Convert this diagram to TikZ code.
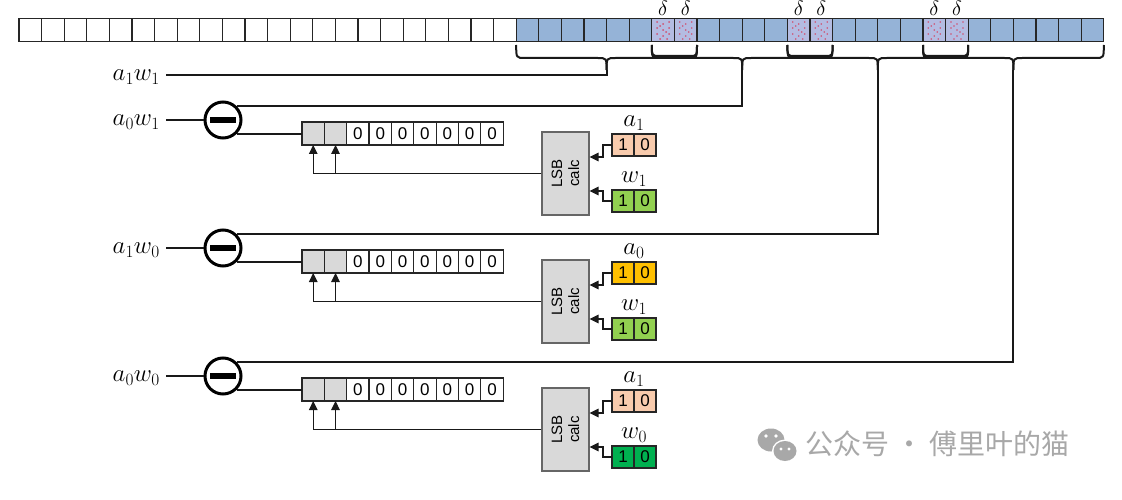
\documentclass[tikz,border=0pt]{standalone}
\usepackage{fontspec}
\newfontfamily\arial{Liberation Sans}
\newfontfamily\cjk{Noto Sans CJK SC}
\usetikzlibrary{arrows.meta}
\definecolor{barblue}{HTML}{95B3D7}
\definecolor{dotblue}{HTML}{B4BCE2}
\definecolor{dotred}{HTML}{D05070}
\definecolor{cellgray}{HTML}{D9D9D9}
\definecolor{aorange}{HTML}{F8CBAD}
\definecolor{ayellow}{HTML}{FFC000}
\definecolor{wlight}{HTML}{92D050}
\definecolor{wdark}{HTML}{00B050}
\definecolor{wmgray}{HTML}{A8A8A8}
\begin{document}
\begin{tikzpicture}[x=1pt,y=-1pt,
  topcell/.style={draw=black!85, line width=1.3pt, minimum width=22.6pt, minimum height=23pt, inner sep=0pt, outer sep=0pt},
  regcell/.style={draw=black!85, line width=1.2pt, minimum width=22.35pt, minimum height=23pt, inner sep=0pt, outer sep=0pt, font=\arial\fontsize{17}{17}\selectfont},
  smallcell/.style={draw=black!85, line width=1.2pt, minimum width=22pt, minimum height=22pt, inner sep=0pt, outer sep=0pt, font=\arial\fontsize{17}{17}\selectfont},
  wire/.style={line width=2pt, black!90},
  bracepath/.style={line width=2pt, black!90},
  arr/.style={line width=1.3pt, black!90, -{Triangle[length=9pt,width=8.5pt]}},
  minus/.style={circle, draw, line width=3pt, minimum size=36pt, inner sep=0pt},
  minusbar/.style={fill=black, minimum width=26pt, minimum height=6pt, inner sep=0pt},
  lsb/.style={draw=black!60, line width=1.2pt, fill=cellgray, minimum width=47pt, minimum height=83pt, inner sep=0pt},
  lsbtext/.style={rotate=90, align=center, font=\arial\fontsize{15}{17}\selectfont, inner sep=0pt},
  lab/.style={font=\fontsize{25}{25}\selectfont, inner sep=0pt},
  dlab/.style={font=\fontsize{22}{22}\selectfont, inner sep=0pt, anchor=base}
]
\useasboundingbox (0,0) rectangle (1122,500);
\fill[white] (0,0) rectangle (1122,500);

% top bar
\foreach \i in {0,...,21}
  \node[topcell, fill=white] (c\i) at ({30.3+22.6*\i},30) {};
\foreach \i in {22,...,27,30,31,32,33,36,37,38,39,42,43,44,45,46,47}
  \node[topcell, fill=barblue] (c\i) at ({30.3+22.6*\i},30) {};
\foreach \i in {28,29,34,35,40,41} {
  \node[topcell, fill=dotblue] (c\i) at ({30.3+22.6*\i},30) {};
  \foreach \dx/\dy in {-6/-8,0/-6,6/-8,-6/-2,0/0,6/-2,-6/4,0/6,6/4,-3/9,4/9,-3/-4,3/2}
    \fill[dotred] ([shift={(\dx,\dy)}]c\i.center) circle (0.9);
  \node[dlab] (d\i) at ({30.3+22.6*\i},16) {$\delta$};
}

% small braces
\foreach \p in {28,34,40} {
  \pgfmathsetmacro\xl{19+22.6*\p}
  \pgfmathsetmacro\xr{\xl+45.2}
  \draw[bracepath] (\xl,45) .. controls (\xl,56) .. ({\xl+8},56) -- ({\xr-8},56) .. controls (\xr,56) .. (\xr,45);
}
% big braces
\foreach \k in {0,1,2,3} {
  \pgfmathsetmacro\xl{19+22.6*(22+6*\k)}
  \pgfmathsetmacro\xc{\xl+90.4}
  \pgfmathsetmacro\xr{\xl+180.8}
  \draw[bracepath] (\xl,45) .. controls (\xl,58) .. ({\xl+9},58) -- ({\xc-9},58) .. controls (\xc,58) .. (\xc,70) coordinate (t\k);
  \draw[bracepath] (\xc,70) .. controls (\xc,58) .. ({\xc+9},58) -- ({\xr-9},58) .. controls (\xr,58) .. (\xr,45);
}

% first wire a1w1
\node[lab, anchor=east] (L0) at (160,77) {$a_1w_1$};
\coordinate (S0) at (166,75);
\draw[wire] (S0) -| (t0);

% sections
\foreach \s/\al/\wl/\ac/\wc/\ll in {0/a_1/w_1/aorange/wlight/a_0w_1, 1/a_0/w_1/ayellow/wlight/a_1w_0, 2/a_1/w_0/aorange/wdark/a_0w_0} {
  \pgfmathsetmacro\dy{\s*128}
  \pgfmathtruncatemacro\tk{\s+1}
  \node[lab, anchor=east] (LL\s) at (160,{122+\dy}) {$\ll$};
  \coordinate (S\s) at (166,{120+\dy});
  \node[minus] (m\s) at (223,{120+\dy}) {};
  \node[minusbar] (mb\s) at (m\s) {};
  \draw[wire] (S\s) -- (m\s.west);
  \draw[wire] (t\tk) |- (m\s.46);
  \foreach \i in {0,1}
    \node[regcell, fill=cellgray] (r\s-\i) at ({313.2+22.35*\i},{133.5+\dy}) {};
  \foreach \i in {2,...,8}
    \node[regcell, fill=white] (r\s-\i) at ({313.2+22.35*\i},{133.5+\dy}) {0};
  \draw[wire] (m\s.-46) -- (m\s.-46 -| r\s-0.west);
  \node[lsb] (b\s) at (565.5,{173.5+\dy}) {};
  \node[lsbtext] (bt\s) at (b\s) {LSB\\calc};
  \draw[arr] (b\s.west) -| (r\s-1.south);
  \draw[arr] (b\s.west) -| (r\s-0.south);
  \node[smallcell, fill=\ac] (a\s-0) at (623,{145+\dy}) {1};
  \node[smallcell, fill=\ac] (a\s-1) at (645,{145+\dy}) {0};
  \node[lab] (al\s) at (634,{123+\dy}) {$\al$};
  \node[smallcell, fill=\wc] (w\s-0) at (623,{201+\dy}) {1};
  \node[smallcell, fill=\wc] (w\s-1) at (645,{201+\dy}) {0};
  \node[lab] (wl\s) at (634,{179+\dy}) {$\wl$};
  \draw[arr] (a\s-0.west) -- ++(-9,0) |- ([yshift=16.5pt]b\s.east);
  \draw[arr] (w\s-0.west) -- ++(-9,0) |- ([yshift=-17.5pt]b\s.east);
}

% watermark
\fill[wmgray] (771,440) ellipse (13.5 and 11.5);
\fill[white] (785,451) ellipse (13 and 11.5);
\fill[wmgray] (785,451) ellipse (11.5 and 10);
\fill[white] (766,436) circle (1.9) (776,436) circle (1.9);
\fill[white] (781,449) circle (1.6) (789,449) circle (1.6);
\node[font=\cjk\fontsize{28}{28}\selectfont, text=wmgray, anchor=west, inner sep=0pt] (wm) at (805,444) {公众号 · 傅里叶的猫};
\end{tikzpicture}
\end{document}
